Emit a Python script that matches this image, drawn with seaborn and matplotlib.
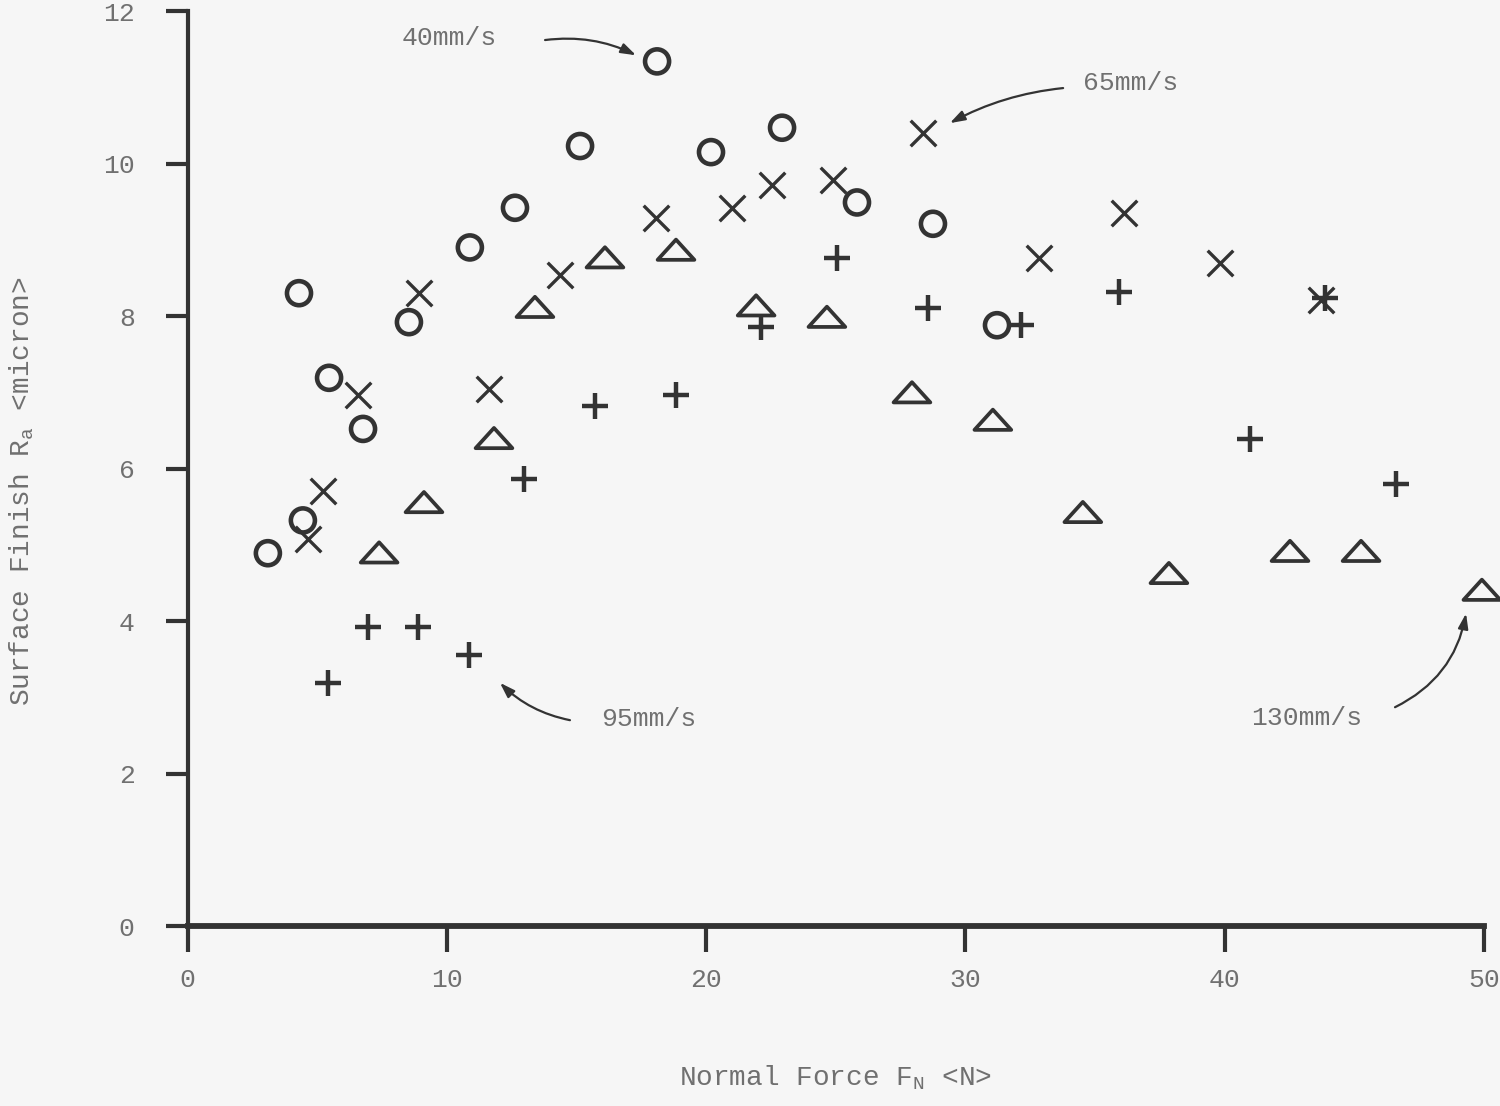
import numpy as np
import pandas as pd
import matplotlib
matplotlib.use("Agg")
import matplotlib.pyplot as plt
from matplotlib.path import Path
import seaborn as sns

# ---- data ----
force_40 = [3.1, 4.3, 4.45, 5.46, 6.77, 8.54, 10.89, 12.63, 15.14, 18.11, 20.19, 22.93, 25.82, 28.75, 31.22]
ra_40 = [4.89, 8.30, 5.32, 7.19, 6.52, 7.92, 8.90, 9.42, 10.23, 11.34, 10.15, 10.47, 9.49, 9.21, 7.88]

force_65 = [4.65, 5.23, 6.58, 8.93, 11.63, 14.37, 18.07, 21.0, 22.54, 24.9, 28.37, 32.84, 36.12, 39.82, 43.72]
ra_65 = [5.08, 5.70, 6.96, 8.30, 7.04, 8.54, 9.29, 9.42, 9.72, 9.78, 10.40, 8.76, 9.35, 8.70, 8.21]

force_95 = [5.42, 6.96, 8.89, 10.86, 12.98, 15.72, 18.84, 22.12, 25.05, 28.56, 32.14, 35.92, 40.98, 43.87, 46.6]
ra_95 = [3.19, 3.92, 3.92, 3.55, 5.86, 6.82, 6.96, 7.86, 8.76, 8.10, 7.88, 8.31, 6.39, 8.24, 5.80]

force_130 = [7.39, 9.12, 11.82, 13.4, 16.1, 18.84, 21.93, 24.66, 27.94, 31.06, 34.53, 37.85, 42.52, 45.26, 49.92]
ra_130 = [4.90, 5.56, 6.40, 8.12, 8.77, 8.87, 8.14, 7.99, 7.0, 6.64, 5.43, 4.63, 4.92, 4.92, 4.41]

x_ticks = [0, 10, 20, 30, 40, 50]
y_ticks = [0, 2, 4, 6, 8, 10, 12]
x_label = "Normal Force F$_\\mathrm{N}$ <N>"
y_label = "Surface Finish R$_\\mathrm{a}$ <micron>"

df = pd.concat([
    pd.DataFrame({"force": force_40, "ra": ra_40, "speed": "40mm/s"}),
    pd.DataFrame({"force": force_65, "ra": ra_65, "speed": "65mm/s"}),
    pd.DataFrame({"force": force_95, "ra": ra_95, "speed": "95mm/s"}),
    pd.DataFrame({"force": force_130, "ra": ra_130, "speed": "130mm/s"}),
])

# ---- style ----
sns.set_style("ticks")
bg = "#f6f6f6"
ink = "#333333"
txt = "#707070"
plt.rcParams["font.family"] = ["Liberation Mono", "DejaVu Sans Mono"]
plt.rcParams["mathtext.fontset"] = "custom"
plt.rcParams["mathtext.rm"] = "Liberation Mono"
plt.rcParams["mathtext.it"] = "Liberation Mono"

fig = plt.figure(figsize=(15, 11.06), dpi=100, facecolor=bg)
ax = fig.add_axes([0.125, 0.1627, 0.8643, 0.8273])
ax.set_facecolor(bg)

tri = Path([(-1.0, -0.55), (1.0, -0.55), (0.0, 0.55), (-1.0, -0.55)],
           [Path.MOVETO, Path.LINETO, Path.LINETO, Path.CLOSEPOLY])

styles = {
    "40mm/s": dict(marker="o", s=300, facecolor="none", edgecolor=ink, linewidth=3.3),
    "65mm/s": dict(marker="x", s=340, linewidth=2.4),
    "95mm/s": dict(marker="+", s=370, linewidth=3.2),
    "130mm/s": dict(marker=tri, s=700, facecolor="none", edgecolor=ink, linewidth=2.7),
}
for sp, kw in styles.items():
    sub = df[df["speed"] == sp]
    sns.scatterplot(data=sub, x="force", y="ra", ax=ax, clip_on=False, zorder=3,
                    color=ink, **kw)

ax.set_xlim(0, 50)
ax.set_ylim(0, 12)
ax.set_xticks(x_ticks)
ax.set_yticks(y_ticks)
ax.set_xticklabels([str(v) for v in x_ticks])
ax.set_yticklabels([str(v) for v in y_ticks])

for s in ["top", "right"]:
    ax.spines[s].set_visible(False)
ax.spines["left"].set_linewidth(3.0)
ax.spines["left"].set_color(ink)
ax.spines["bottom"].set_linewidth(4.2)
ax.spines["bottom"].set_color(ink)

ax.tick_params(axis="x", direction="out", length=19, width=3, color=ink,
               labelsize=19, labelcolor=txt, pad=11)
ax.tick_params(axis="y", direction="out", length=16, width=3, color=ink,
               labelsize=19, labelcolor=txt, pad=22)

ax.set_xlabel(x_label, fontsize=20, color=txt)
ax.set_ylabel(y_label, fontsize=20, color=txt)
ax.xaxis.set_label_coords(0.5, -0.150)
ax.yaxis.set_label_coords(-0.117, 0.475)

# ---- annotations ----
aprops = dict(arrowstyle="-|>,head_length=0.9,head_width=0.3", color=ink, lw=1.6,
              shrinkA=0, shrinkB=0)
ax.text(10.08, 11.65, "40mm/s", fontsize=19, color=txt, ha="center", va="center")
ax.annotate("", xy=(17.3, 11.42), xytext=(13.79, 11.62),
            arrowprops=dict(aprops, connectionstyle="arc3,rad=-0.15"), annotation_clip=False)

ax.text(36.39, 11.06, "65mm/s", fontsize=19, color=txt, ha="center", va="center")
ax.annotate("", xy=(29.4, 10.53), xytext=(33.77, 10.99),
            arrowprops=dict(aprops, connectionstyle="arc3,rad=0.1"), annotation_clip=False)

ax.text(17.8, 2.71, "95mm/s", fontsize=19, color=txt, ha="center", va="center")
ax.annotate("", xy=(12.05, 3.19), xytext=(14.75, 2.70),
            arrowprops=dict(aprops, connectionstyle="arc3,rad=-0.15"), annotation_clip=False)

ax.text(43.17, 2.73, "130mm/s", fontsize=19, color=txt, ha="center", va="center")
ax.annotate("", xy=(49.31, 4.10), xytext=(46.57, 2.87),
            arrowprops=dict(aprops, connectionstyle="arc3,rad=0.25"), annotation_clip=False)

fig.savefig("out.png", dpi=100, facecolor=bg)
